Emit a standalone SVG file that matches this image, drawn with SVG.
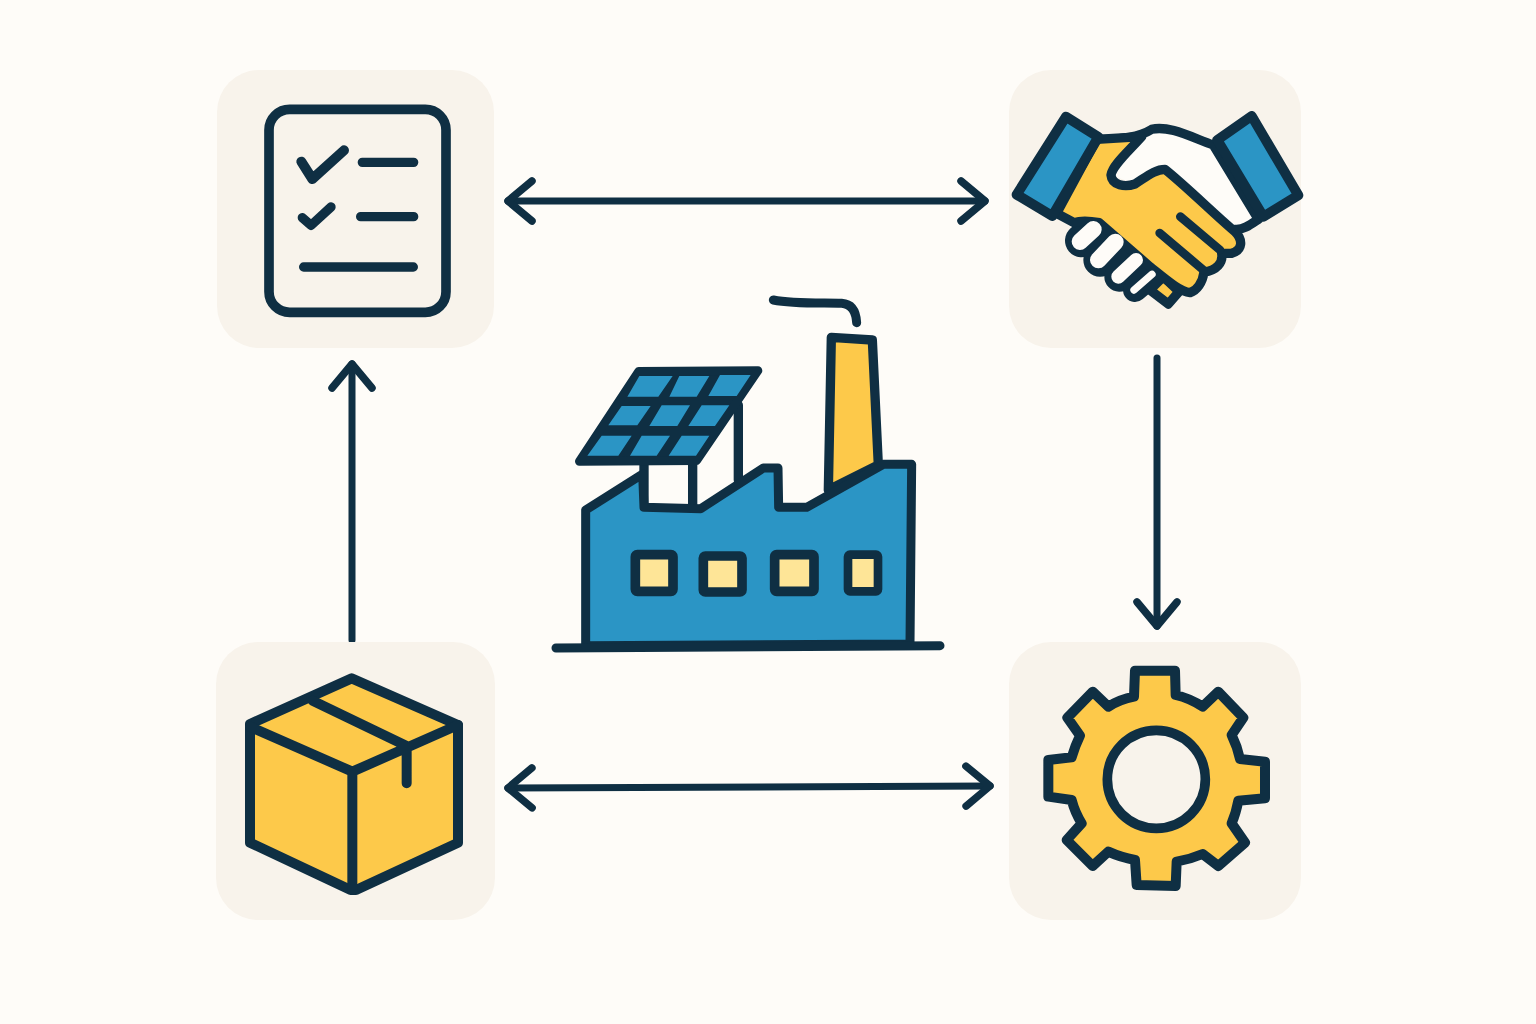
<svg xmlns="http://www.w3.org/2000/svg" width="1536" height="1024" viewBox="0 0 1536 1024">
<style>
.panel{fill:#f8f3eb}
.ln{stroke:#0f2f43;stroke-linecap:round;stroke-linejoin:round;fill:none}
.s{stroke:#0f2f43;stroke-linecap:round;stroke-linejoin:round}
.y{fill:#fdc94a}.b{fill:#2b95c5}.w{fill:#fefcf8}.ly{fill:#fee597}.d{fill:#0f2f43}
.conn{stroke:#0f2f43;stroke-width:7;stroke-linecap:round;fill:none}
</style>
<defs>
<marker id="head" markerUnits="userSpaceOnUse" markerWidth="40" markerHeight="60" viewBox="-32 -30 40 60" refX="0" refY="0" orient="auto-start-reverse">
<path d="M-24,-20 L0,0 L-24,20" fill="none" stroke="#0f2f43" stroke-width="7.5" stroke-linecap="round" stroke-linejoin="round"/>
</marker>
</defs>
<rect width="1536" height="1024" fill="#fefcf8"/>

<g id="connectors">
<path class="conn" d="M508,201 L985,201" marker-start="url(#head)" marker-end="url(#head)"/>
<path class="conn" d="M508,788 L990,786" marker-start="url(#head)" marker-end="url(#head)"/>
<path class="conn" d="M352,640 L352,364" marker-end="url(#head)"/>
<path class="conn" d="M1157,358 L1157,626" marker-end="url(#head)"/>
</g>

<g id="checklist">
<rect class="panel" x="217" y="70" width="277" height="278" rx="42"/>
<g transform="translate(250 95) scale(.33333)">
<rect class="ln" x="57" y="43" width="531" height="609" rx="62" stroke-width="29"/>
<path class="ln" stroke-width="30" d="M154,200 L187,252 L282,166"/>
<path class="ln" stroke-width="28" d="M157,368 L183,391 L243,336"/>
<path class="ln" stroke-width="28" d="M337,202 H491 M332,365 H491 M161,516 H490"/>
</g>
</g>

<g id="handshake">
<rect class="panel" x="1009" y="70" width="292" height="278" rx="42"/>
<g transform="translate(1000 90) scale(.33333)">
<!-- knuckles of the lower hand -->
<path class="ln" stroke-width="100" d="M245,452 L285,418"/>
<path class="ln" stroke-width="100" d="M300,510 L348,462"/>
<path class="ln" stroke-width="90" d="M358,560 L408,512"/>
<path class="ln" stroke-width="72" d="M405,600 L460,553"/>
<!-- thumb tip -->
<path class="y s" stroke-width="28" d="M450,600 L490,560 L537,605 L505,642 Z"/>
<!-- right hand: fill first, then its outline -->
<path class="w" d="M425,130 C510,105 580,145 640,165 L775,388 C750,405 730,420 705,418 L495,238 L405,282 L333,255 Z"/>
<path class="ln" stroke-width="28" d="M300,148 C360,150 420,140 455,118 C510,105 580,145 640,165 L775,388 C750,405 730,420 705,418"/>
<!-- left hand -->
<path class="y s" stroke-width="28" d="M290,148 L425,140 C385,185 338,225 333,255 C336,287 375,292 405,282 C440,260 465,238 495,238 C560,290 640,370 705,425 C730,450 728,480 695,490 L665,490 C670,518 650,542 612,546 C608,578 590,602 570,608 C540,605 500,570 450,530 L298,398 C265,392 240,392 222,398 L170,370 Z"/>
<path class="ln" stroke-width="26" d="M541,380 L660,480 M479,429 L610,540"/>
<!-- fingers -->
<path d="M240,455 L280,418" stroke="#fefcf8" stroke-width="50" stroke-linecap="round"/>
<path d="M295,510 L346,456" stroke="#fefcf8" stroke-width="50" stroke-linecap="round"/>
<path d="M355,560 L408,510" stroke="#fefcf8" stroke-width="42" stroke-linecap="round"/>
<path d="M402,600 L456,553" stroke="#fefcf8" stroke-width="22" stroke-linecap="round"/>
<!-- cuffs -->
<path class="b s" stroke-width="30" d="M198,80 L295,141 L157,378 L50,314 Z"/>
<path class="b s" stroke-width="30" d="M755,78 L895,316 L790,380 L652,150 Z"/>
</g>
</g>

<g id="package">
<rect class="panel" x="216" y="642" width="279" height="278" rx="42"/>
<g transform="translate(230 660) scale(.33333)">
<path class="y s" stroke-width="30" d="M365,55 L684,195 L684,548 L378,690 L362,690 L60,548 L60,192 Z"/>
<path class="ln" stroke-width="30" d="M60,200 L367,335 L684,195 M367,335 V690 M248,122 L530,258 V370"/>
</g>
</g>

<g id="gear">
<rect class="panel" x="1009" y="642" width="292" height="278" rx="42"/>
<g transform="translate(1030 650) scale(.33333)">
<path class="y s" stroke-width="30" d="M315,62 L435,62 L437,135 Q480,145 518,170 L565,125 L640,203 L605,255 Q622,290 630,327 L705,335 L705,445 L625,452 Q618,490 605,520 L645,578 L565,648 L518,612 Q480,628 440,635 L437,708 L320,705 L315,630 Q272,622 235,605 L188,648 L110,570 L155,520 Q135,488 125,450 L55,440 L55,330 L125,322 Q135,288 150,257 L112,203 L188,125 L235,170 Q270,148 312,140 Z"/>
<circle cx="379" cy="388" r="147" fill="#f8f3eb" stroke="#0f2f43" stroke-width="29"/>
</g>
</g>

<g id="factory">
<g transform="translate(540 280) scale(.33333)">
<!-- smoke -->
<path class="ln" stroke-width="27" d="M700,60 C760,72 850,68 905,70 C935,72 948,95 950,128"/>
<!-- chimney -->
<path class="y s" stroke-width="28" d="M874,172 L997,180 L1015,555 L865,630 Z"/>
<!-- solar mount, open space under the panel -->
<path class="w" d="M312,540 H595 V600 L470,675 H312 Z"/>
<path class="ln" stroke-width="28" d="M595,375 V600 M458,545 V680 M312,545 V680"/>
<!-- building -->
<path class="b s" stroke-width="27" d="M137,690 L308,582 L312,682 L482,686 L670,564 L714,564 L716,682 L800,682 L1030,553 L1115,553 L1110,1092 L137,1097 Z"/>
<path class="ln" stroke-width="27" d="M48,1104 L1200,1097"/>
<!-- windows -->
<rect class="ly s" x="286" y="824" width="113" height="110" rx="6" stroke-width="29"/>
<rect class="ly s" x="490" y="828" width="116" height="108" rx="6" stroke-width="29"/>
<rect class="ly s" x="704" y="824" width="118" height="110" rx="6" stroke-width="29"/>
<rect class="ly s" x="924" y="824" width="90" height="110" rx="6" stroke-width="26"/>
<!-- solar panel -->
<path class="d s" stroke-width="26" d="M296,274 L654,272 L470,542 L118,544 Z"/>
<path class="b" d="M298,288 L398,288 L355,350 L262,350 Z M418,288 L508,288 L470,350 L388,350 Z M540,285 L632,285 L590,348 L505,348 Z M245,378 L332,378 L292,436 L205,436 Z M365,376 L450,376 L412,438 L328,438 Z M485,376 L568,376 L525,438 L445,438 Z M185,467 L275,467 L235,527 L142,527 Z M305,467 L390,467 L350,527 L270,527 Z M425,467 L508,467 L468,527 L386,527 Z"/>
</g>
</g>
</svg>
